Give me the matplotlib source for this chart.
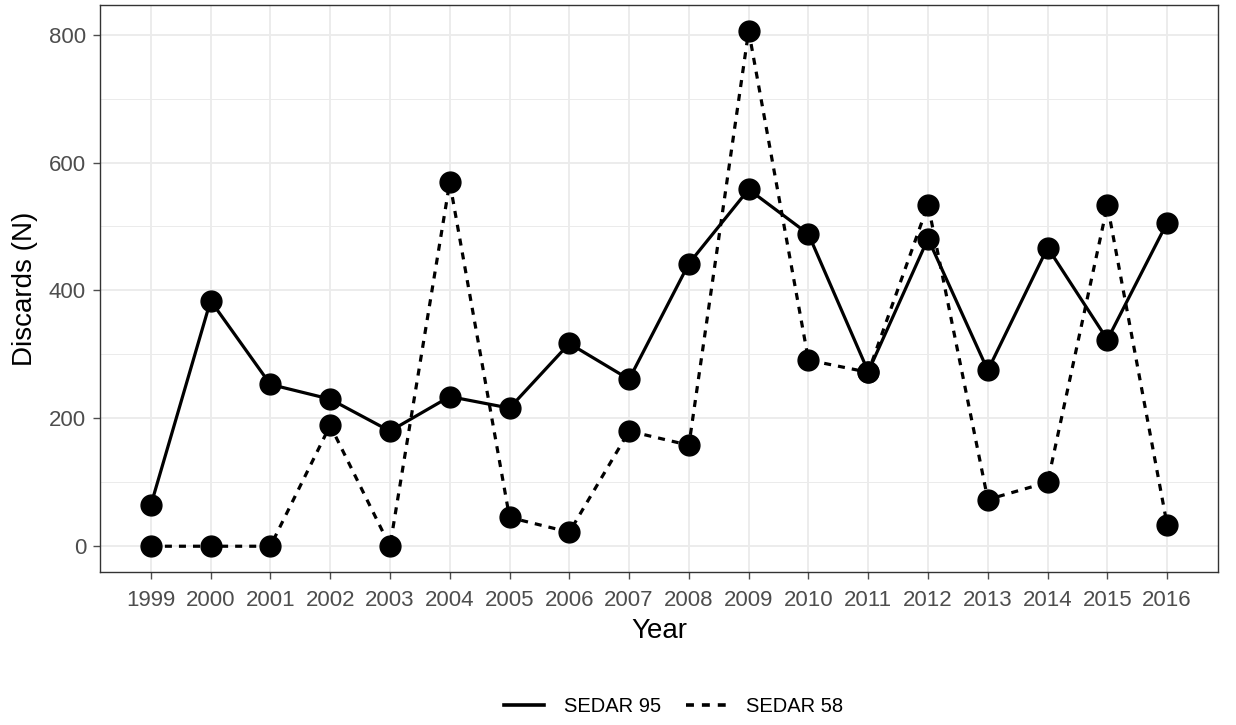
import matplotlib
matplotlib.use("Agg")
import matplotlib.pyplot as plt
from matplotlib.lines import Line2D

years = list(range(1999, 2017))
sedar95 = [64, 384, 253, 230, 180, 234, 216, 317, 261, 442, 558, 488, 273, 481, 275, 467, 323, 506]
sedar58 = [0, 0, 0, 189, 0, 569, 45, 22, 180, 158, 806, 291, 272, 534, 73, 100, 533, 33]
yticks = [0, 200, 400, 600, 800]

plt.rcParams['font.family'] = ['Liberation Sans', 'DejaVu Sans']

W, H = 1236, 725
fig = plt.figure(figsize=(W/100, H/100), dpi=100)
ax = fig.add_axes([100/W, (H-572)/H, (1218-100)/W, (572-5)/H])

dash = (0, (2.2, 2.2))
ax.plot(years, sedar95, color='black', lw=2.3, ls='-', marker='o', ms=15, zorder=3)
ax.plot(years, sedar58, color='black', lw=2.3, ls=dash, marker='o', ms=15, zorder=3)

ax.set_xlim(1999 - 0.85, 2016 + 0.85)
ax.set_ylim(-40.3, 846.3)
ax.set_xticks(years)
ax.set_xticklabels([str(y) for y in years])
ax.set_yticks(yticks)
ax.set_yticks([100, 300, 500, 700], minor=True)
ax.grid(True, which='major', color='#EBEBEB', lw=1.3, zorder=0)
ax.grid(True, which='minor', axis='y', color='#EBEBEB', lw=0.7, zorder=0)
ax.set_axisbelow(True)
ax.tick_params(axis='x', which='major', pad=8)
ax.tick_params(axis='both', which='major', labelsize=16, colors='#4D4D4D', length=5, width=1.0)
ax.tick_params(axis='y', which='major', pad=5)
ax.tick_params(axis='both', which='minor', length=0)
for s in ax.spines.values():
    s.set_color('#333333')
    s.set_linewidth(1.0)
ax.set_xlabel('Year', fontsize=20, labelpad=5)
ax.set_ylabel('Discards (N)', fontsize=20, labelpad=8)

handles = [Line2D([0], [0], color='black', lw=2.6, ls='-'),
           Line2D([0], [0], color='black', lw=2.6, ls=dash)]
fig.legend(handles, ['SEDAR 95', 'SEDAR 58'], loc='center', bbox_to_anchor=(0.545, (H-707)/H),
           ncol=2, frameon=False, fontsize=14.5, handlelength=2.0, columnspacing=1.2, handletextpad=1.0)

fig.savefig('out.png', dpi=100)
